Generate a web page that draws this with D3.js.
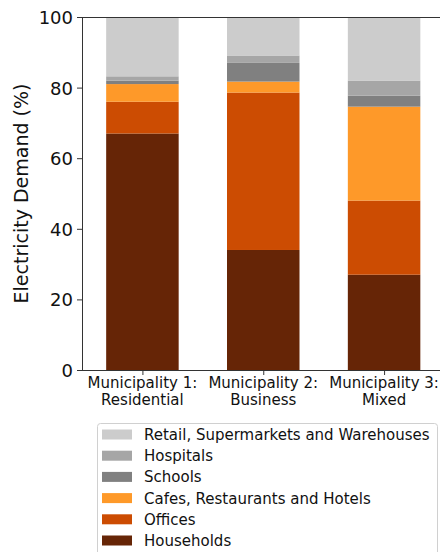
<!DOCTYPE html>
<html>
<head>
<meta charset="utf-8">
<script src="https://cdn.jsdelivr.net/npm/d3@7"></script>
<style>
  html, body { margin: 0; padding: 0; background: #fff; }
  svg { display: block; }
</style>
</head>
<body>
<svg class="chart" width="440" height="552"></svg>
<script>
// data
const municipalities = [["Municipality 1:", "Residential"], ["Municipality 2:", "Business"], ["Municipality 3:", "Mixed"]];
const sectors = ["Households", "Offices", "Cafes, Restaurants and Hotels", "Schools", "Hospitals", "Retail, Supermarkets and Warehouses"];
const households = [67, 34, 27];
const offices = [9, 44.6, 21];
const cafes = [5, 3.1, 26.6];
const schools = [1, 5.3, 3.1];
const hospitals = [1.2, 2.1, 4.3];
const retail = [16.8, 10.9, 18];
const yTicks = [0, 20, 40, 60, 80, 100];

const COLORS = ["#662506", "#cc4c02", "#fe9929", "#808080", "#a6a6a6", "#cccccc"];
const FONT = "DejaVu Sans";
const LEFT = 82, TOP = 17, BOTTOM = 370, RIGHT_EDGE = 444.5;
const BAR_WIDTH = 0.6;

var series = [households, offices, cafes, schools, hospitals, retail];
var rows = municipalities.map(function(m, i) {
   var r = { idx: i };
   sectors.forEach(function(s, j) { r[s] = series[j][i]; });
   return r;
});
var stacked = d3.stack().keys(sectors)(rows);

var chart = d3.select(".chart");

var x = d3.scaleLinear().domain([-0.5, 2.5]).range([LEFT, RIGHT_EDGE]);
var y = d3.scaleLinear().domain([0, 100]).range([BOTTOM, TOP]);
var color = d3.scaleOrdinal().domain(sectors).range(COLORS);

// bars
var layer = chart.append("g").selectAll("g")
   .data(stacked)
   .enter().append("g")
   .attr("fill", function(d) { return color(d.key); });
layer.selectAll("rect")
   .data(function(d) { return d; })
   .enter().append("rect")
   .attr("x", function(d) { return x(d.data.idx - BAR_WIDTH / 2); })
   .attr("width", function(d) { return x(BAR_WIDTH) - x(0); })
   .attr("y", function(d) { return y(d[1]); })
   .attr("height", function(d) { return y(d[0]) - y(d[1]); });

// spines
var spine = chart.append("g").attr("stroke", "#333").attr("stroke-width", 1).attr("shape-rendering", "crispEdges");
spine.append("line").attr("x1", LEFT).attr("x2", LEFT).attr("y1", TOP).attr("y2", BOTTOM);
spine.append("line").attr("x1", LEFT).attr("x2", 440).attr("y1", TOP).attr("y2", TOP);

// y axis
var yAxis = chart.append("g")
   .attr("transform", "translate(" + LEFT + ",0)")
   .call(d3.axisLeft(y).tickValues(yTicks).tickSize(5).tickPadding(4).tickFormat(d3.format("d")));
yAxis.select(".domain").remove();
yAxis.selectAll("line").attr("stroke", "#333");
yAxis.selectAll("text").attr("font-family", FONT).attr("font-size", "18px").attr("fill", "#111").attr("dy", "0.36em");

// x axis
var xAxis = chart.append("g")
   .attr("transform", "translate(0," + BOTTOM + ")")
   .call(d3.axisBottom(x).tickValues([0, 1, 2]).tickSize(5).tickFormat(""));
xAxis.select(".domain").attr("stroke", "#333").attr("d", "M" + LEFT + ",0.5H440");
xAxis.selectAll("line").attr("stroke", "#333");

var xl = chart.append("g").selectAll("text")
   .data(municipalities)
   .enter().append("text")
   .attr("x", function(d, i) { return x(i); })
   .attr("y", 388)
   .attr("text-anchor", "middle")
   .attr("font-family", FONT)
   .attr("font-size", "15px")
   .attr("fill", "#111");
xl.append("tspan").attr("x", function(d, i) { return x(i); }).text(function(d) { return d[0]; });
xl.append("tspan").attr("x", function(d, i) { return x(i); }).attr("dy", 17).text(function(d) { return d[1]; });

// y label
chart.append("text")
   .attr("transform", "translate(28," + ((TOP + BOTTOM) / 2) + ") rotate(-90)")
   .attr("text-anchor", "middle")
   .attr("font-family", FONT)
   .attr("font-size", "19px")
   .attr("fill", "#111")
   .text("Electricity Demand (%)");

// legend (reversed: top of stack first)
var legend = chart.append("g").attr("transform", "translate(97,423)");
legend.append("rect")
   .attr("x", 0.5).attr("y", 0.5)
   .attr("width", 340).attr("height", 140)
   .attr("rx", 3)
   .attr("fill", "#fff")
   .attr("stroke", "#d0d0d0");
var item = legend.selectAll("g.item")
   .data(sectors.slice().reverse())
   .enter().append("g")
   .attr("class", "item")
   .attr("transform", function(d, i) { return "translate(0," + (11.5 + i * 21.2) + ")"; });
item.append("rect")
   .attr("x", 5).attr("y", -5)
   .attr("width", 30).attr("height", 10)
   .attr("fill", function(d) { return color(d); });
item.append("text")
   .attr("x", 47)
   .attr("dy", "0.36em")
   .attr("font-family", FONT)
   .attr("font-size", "15px")
   .attr("fill", "#111")
   .text(function(d) { return d; });
</script>
</body>
</html>
